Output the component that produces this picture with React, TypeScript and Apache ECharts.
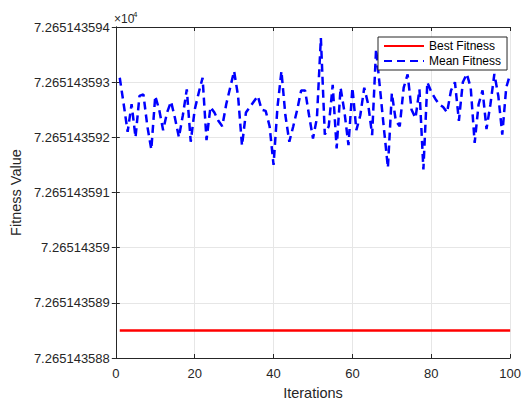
import React, { useEffect, useRef } from "react";
import * as echarts from "echarts";

// Values in units of 10^4 (the axis shows "×10^4")
const iterations: number[] = Array.from({ length: 100 }, (_, i) => i + 1);
const bestFitnessValue = 7.2651435885;
const meanFitness: number[] = [
  7.26514359308, 7.2651435926, 7.2651435921, 7.2651435926, 7.265143592,
  7.26514359275, 7.26514359278, 7.2651435922, 7.26514359178, 7.26514359275,
  7.2651435925, 7.26514359213, 7.26514359245, 7.26514359265, 7.26514359235,
  7.265143592, 7.2651435924, 7.26514359287, 7.26514359192, 7.2651435925,
  7.2651435928, 7.26514359308, 7.26514359195, 7.26514359255, 7.26514359245,
  7.2651435923, 7.2651435922, 7.2651435926, 7.2651435929, 7.2651435932,
  7.26514359275, 7.26514359185, 7.26514359245, 7.26514359255, 7.26514359265,
  7.26514359275, 7.2651435925, 7.26514359248, 7.2651435922, 7.2651435915,
  7.26514359255, 7.2651435932, 7.2651435924, 7.26514359192, 7.2651435922,
  7.2651435925, 7.26514359285, 7.26514359285, 7.2651435924, 7.26514359198,
  7.26514359235, 7.2651435938, 7.26514359205, 7.2651435922, 7.26514359295,
  7.2651435918, 7.2651435929, 7.26514359245, 7.26514359186, 7.2651435929,
  7.26514359213, 7.2651435924, 7.2651435929, 7.2651435926, 7.26514359204,
  7.2651435936, 7.26514359288, 7.26514359215, 7.26514359145, 7.2651435928,
  7.2651435923, 7.2651435922, 7.2651435929, 7.26514359314, 7.2651435925,
  7.26514359235, 7.26514359287, 7.26514359142, 7.265143593, 7.26514359282,
  7.2651435927, 7.2651435926, 7.26514359255, 7.26514359245, 7.26514359285,
  7.265143593, 7.2651435923, 7.265143593, 7.26514359315, 7.2651435929,
  7.2651435919, 7.2651435926, 7.26514359285, 7.26514359215, 7.2651435926,
  7.26514359315, 7.26514359275, 7.26514359205, 7.2651435929, 7.26514359315,
];
const bestFitness: number[] = iterations.map(() => bestFitnessValue);
const xMin = 0;
const xMax = 100;
const xStep = 20;
const yMin = 7.265143588;
const yMax = 7.265143594;
const yStep = 1e-9;

const FONT = "'Liberation Sans', Arial, sans-serif";
const AX = "#262626";
const GRID = "#e6e6e6";

export default function App() {
  const ref = useRef<HTMLDivElement>(null);
  useEffect(() => {
    if (!ref.current) return;
    const chart = echarts.init(ref.current, null, { renderer: "svg" });
    const fmtY = (v: number) => String(parseFloat(v.toFixed(9)));
    const axisCommon = {
      axisLine: { show: true, lineStyle: { color: AX, width: 1 } },
      axisTick: { show: true, inside: true, length: 4, lineStyle: { color: AX } },
    };
    chart.setOption({
      animation: false,
      backgroundColor: "#ffffff",
      textStyle: { fontFamily: FONT },
      grid: { left: 114, right: 12, top: 27, bottom: 41, containLabel: false },
      legend: {
        left: 378,
        top: 37,
        orient: "vertical",
        itemWidth: 40,
        itemHeight: 12,
        itemGap: 3,
        padding: [3, 6, 3, 5],
        borderColor: AX,
        borderWidth: 1,
        backgroundColor: "#ffffff",
        itemStyle: { opacity: 0 },
        textStyle: { fontFamily: FONT, fontSize: 12, color: "#000" },
        data: ["Best Fitness", "Mean Fitness"],
      },
      xAxis: [
        {
          type: "value",
          min: xMin,
          max: xMax,
          interval: xStep,
          position: "bottom",
          ...axisCommon,
          splitLine: { show: true, lineStyle: { color: GRID, width: 1 } },
          axisLabel: { color: AX, fontSize: 13, fontFamily: FONT, margin: 9 },
          name: "Iterations",
          nameLocation: "middle",
          nameGap: 27,
          nameTextStyle: { color: AX, fontSize: 14.5, fontFamily: FONT },
        },
        {
          type: "value",
          min: xMin,
          max: xMax,
          interval: xStep,
          position: "top",
          ...axisCommon,
          splitLine: { show: false },
          axisLabel: { show: false },
        },
      ],
      yAxis: [
        {
          type: "value",
          min: yMin,
          max: yMax,
          interval: yStep,
          position: "left",
          ...axisCommon,
          splitLine: { show: true, lineStyle: { color: GRID, width: 1 } },
          axisLabel: { color: AX, fontSize: 13, fontFamily: FONT, margin: 6, formatter: fmtY },
          name: "Fitness Value",
          nameLocation: "middle",
          nameGap: 90,
          nameRotate: 90,
          nameTextStyle: { color: AX, fontSize: 14.5, fontFamily: FONT },
        },
        {
          type: "value",
          min: yMin,
          max: yMax,
          interval: yStep,
          position: "right",
          ...axisCommon,
          splitLine: { show: false },
          axisLabel: { show: false },
        },
      ],
      graphic: [
        {
          type: "text",
          left: 114,
          top: 13,
          style: { text: "×10", fontSize: 12, fontFamily: FONT, fill: AX },
        },
        {
          type: "text",
          left: 133,
          top: 10,
          style: { text: "4", fontSize: 8, fontFamily: FONT, fill: AX },
        },
      ],
      series: [
        {
          name: "Best Fitness",
          type: "line",
          symbol: "none",
          showSymbol: false,
          data: iterations.map((x, i) => [x, bestFitness[i]]),
          lineStyle: { color: "#ff0000", width: 2.5 },
          itemStyle: { color: "#ff0000" },
        },
        {
          name: "Mean Fitness",
          type: "line",
          symbol: "none",
          showSymbol: false,
          data: iterations.map((x, i) => [x, meanFitness[i]]),
          lineStyle: { color: "#0000ff", width: 2.5, type: [8, 5] },
          itemStyle: { color: "#0000ff" },
        },
      ],
    });
    return () => chart.dispose();
  }, []);
  return (
    <div
      ref={ref}
      style={{ position: "fixed", left: 0, top: 0, width: 524, height: 405, background: "#fff" }}
    />
  );
}
